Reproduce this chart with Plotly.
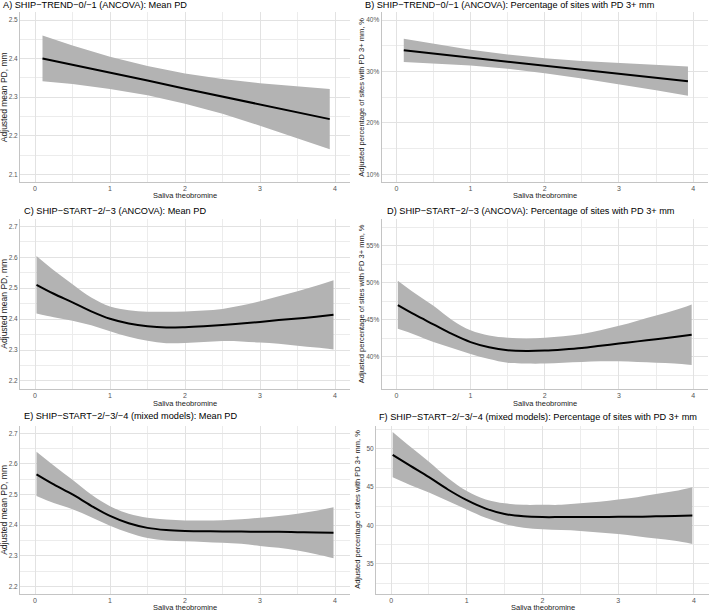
import plotly.graph_objects as go

W, H = 709, 612

# ---------------- data ----------------
x_lin = [0.1, 0.5, 1.0, 1.5, 2.0, 2.5, 3.0, 3.5, 3.93]
x_spl = [0.02, 0.25, 0.5, 0.75, 1.0, 1.25, 1.5, 1.75, 2.0, 2.25, 2.5, 2.75, 3.0, 3.25, 3.5, 3.75, 3.98]

a_fit = [2.400, 2.384, 2.363, 2.343, 2.322, 2.302, 2.281, 2.261, 2.243]
a_hi = [2.460, 2.434, 2.405, 2.381, 2.361, 2.347, 2.336, 2.328, 2.321]
a_lo = [2.341, 2.334, 2.321, 2.305, 2.283, 2.257, 2.226, 2.194, 2.165]

b_fit = [34.10, 33.47, 32.69, 31.91, 31.12, 30.34, 29.56, 28.77, 28.10]
b_hi = [36.35, 35.37, 34.24, 33.31, 32.57, 32.04, 31.61, 31.22, 30.95]
b_lo = [31.85, 31.57, 31.14, 30.51, 29.67, 28.64, 27.51, 26.32, 25.25]

c_fit = [2.511, 2.482, 2.454, 2.425, 2.401, 2.386, 2.377, 2.373, 2.374, 2.377, 2.381, 2.386, 2.391, 2.397, 2.402, 2.408, 2.414]
c_hi = [2.604, 2.558, 2.513, 2.470, 2.441, 2.429, 2.424, 2.424, 2.425, 2.428, 2.433, 2.444, 2.458, 2.474, 2.490, 2.508, 2.526]
c_lo = [2.418, 2.406, 2.395, 2.380, 2.361, 2.343, 2.330, 2.322, 2.323, 2.326, 2.329, 2.328, 2.324, 2.320, 2.314, 2.308, 2.302]

d_fit = [47.0, 45.7, 44.4, 43.1, 42.0, 41.3, 40.9, 40.8, 40.85, 41.0, 41.2, 41.5, 41.8, 42.1, 42.4, 42.7, 43.0]
d_hi = [50.3, 48.6, 46.9, 45.0, 43.6, 42.9, 42.6, 42.5, 42.6, 42.8, 43.1, 43.6, 44.2, 44.9, 45.6, 46.3, 47.1]
d_lo = [43.8, 43.0, 42.0, 41.2, 40.4, 39.7, 39.2, 39.1, 39.1, 39.2, 39.3, 39.4, 39.4, 39.3, 39.2, 39.1, 38.9]

e_fit = [2.566, 2.533, 2.500, 2.463, 2.430, 2.406, 2.391, 2.384, 2.381, 2.380, 2.379, 2.379, 2.378, 2.378, 2.377, 2.376, 2.375]
e_hi = [2.640, 2.595, 2.548, 2.500, 2.462, 2.437, 2.424, 2.418, 2.415, 2.415, 2.416, 2.419, 2.424, 2.430, 2.437, 2.447, 2.458]
e_lo = [2.495, 2.472, 2.452, 2.426, 2.398, 2.375, 2.358, 2.350, 2.347, 2.345, 2.342, 2.339, 2.332, 2.326, 2.317, 2.305, 2.292]

f_fit = [49.2, 47.8, 46.3, 44.7, 43.3, 42.2, 41.5, 41.2, 41.1, 41.1, 41.1, 41.1, 41.15, 41.15, 41.2, 41.25, 41.3]
f_hi = [52.2, 50.3, 48.3, 46.2, 44.5, 43.4, 42.9, 42.7, 42.7, 42.7, 42.9, 43.1, 43.4, 43.7, 44.1, 44.5, 45.0]
f_lo = [46.3, 45.3, 44.3, 43.2, 42.1, 41.0, 40.2, 39.7, 39.5, 39.4, 39.3, 39.1, 38.9, 38.6, 38.3, 38.0, 37.6]

titles = [
    "A) SHIP\u2212TREND\u22120/\u22121 (ANCOVA): Mean PD",
    "B) SHIP\u2212TREND\u22120/\u22121 (ANCOVA): Percentage of sites with PD 3+ mm",
    "C) SHIP\u2212START\u22122/\u22123 (ANCOVA): Mean PD",
    "D) SHIP\u2212START\u22122/\u22123 (ANCOVA): Percentage of sites with PD 3+ mm",
    "E) SHIP\u2212START\u22122/\u22123/\u22124 (mixed models): Mean PD",
    "F) SHIP\u2212START\u22122/\u22123/\u22124 (mixed models): Percentage of sites with PD 3+ mm",
]
x_title = "Saliva theobromine"
y_title_pd = "Adjusted mean PD, mm"
y_title_pct = "Adjusted percentage of sites with PD 3+ mm, %"

# ---------------- layout settings ----------------
FONT = "Liberation Sans, Arial, sans-serif"
RIB = "rgb(179,179,179)"
GRID = "#e2e2e2"
MINOR = "#ececec"
AXLINE = "#c4c4c4"

panels = [
    dict(x=x_lin, fit=a_fit, hi=a_hi, lo=a_lo, shape="linear", xd=(20, 350), yd=(12.3, 182),
         yr=[2.08, 2.52], dt=0.1, mdt=0.05, suf="", tx=1, ty=5, yt=y_title_pd, ytx=4, yfs=8.5, xty=196),
    dict(x=x_lin, fit=b_fit, hi=b_hi, lo=b_lo, shape="linear", xd=(381.5, 708), yd=(12.3, 182),
         yr=[8.5, 41.5], dt=10, mdt=5, suf="%", tx=363, ty=5, yt=y_title_pct, ytx=361.5, yfs=7.5, xty=196),
    dict(x=x_spl, fit=c_fit, hi=c_hi, lo=c_lo, shape="spline", xd=(20, 350), yd=(218.6, 388.7),
         yr=[2.175, 2.725], dt=0.1, mdt=0.05, suf="", tx=21.5, ty=211, yt=y_title_pd, ytx=4, yfs=8.5, xty=403),
    dict(x=x_spl, fit=d_fit, hi=d_hi, lo=d_lo, shape="spline", xd=(381.5, 708), yd=(218.6, 388.7),
         yr=[35.7, 58.7], dt=5, mdt=2.5, suf="%", tx=385, ty=211, yt=y_title_pct, ytx=361.5, yfs=7.5, xty=403),
    dict(x=x_spl, fit=e_fit, hi=e_hi, lo=e_lo, shape="spline", xd=(20, 350), yd=(425.6, 594),
         yr=[2.175, 2.725], dt=0.1, mdt=0.05, suf="", tx=21.5, ty=416, yt=y_title_pd, ytx=4, yfs=8.5, xty=607),
    dict(x=x_spl, fit=f_fit, hi=f_hi, lo=f_lo, shape="spline", xd=(376, 709), yd=(425.6, 594),
         yr=[31.07, 53.03], dt=5, mdt=2.5, suf="", tx=377, ty=416.5, yt=y_title_pct, ytx=358, yfs=7.5, xty=607),
]

fig = go.Figure()
layout = dict(
    width=W, height=H, margin=dict(l=0, r=0, t=0, b=0),
    paper_bgcolor="white", plot_bgcolor="white", showlegend=False,
    font=dict(family=FONT),
)
annotations = []

for i, p in enumerate(panels):
    n = "" if i == 0 else str(i + 1)
    xa, ya = "x" + n, "y" + n
    common = dict(xaxis=xa, yaxis=ya, showlegend=False, hoverinfo="skip")
    fig.add_trace(go.Scatter(x=p["x"], y=p["lo"], mode="lines",
                             line=dict(width=0, color=RIB, shape=p["shape"]), **common))
    fig.add_trace(go.Scatter(x=p["x"], y=p["hi"], mode="lines", fill="tonexty", fillcolor=RIB,
                             line=dict(width=0, color=RIB, shape=p["shape"]), **common))
    fig.add_trace(go.Scatter(x=p["x"], y=p["fit"], mode="lines",
                             line=dict(width=2, color="black", shape=p["shape"]), **common))

    x0, x1 = p["xd"]
    yt0, yb0 = p["yd"]
    layout["xaxis" + n] = dict(
        domain=[x0 / W, x1 / W], anchor=ya, range=[-0.2, 4.2],
        tick0=0, dtick=1, showgrid=True, gridcolor=GRID, gridwidth=1,
        minor=dict(dtick=0.5, tick0=0, showgrid=True, gridcolor=MINOR, gridwidth=0.8),
        zeroline=False, showline=True, linecolor=AXLINE, linewidth=1,
        ticks="", ticklen=0,
        tickfont=dict(size=7, color="#555555", family=FONT),
    )
    layout["yaxis" + n] = dict(
        domain=[1 - yb0 / H, 1 - yt0 / H], anchor=xa, range=p["yr"],
        tick0=0, dtick=p["dt"], ticksuffix=p["suf"], showgrid=True, gridcolor=GRID, gridwidth=1,
        minor=dict(dtick=p["mdt"], tick0=0, showgrid=True, gridcolor=MINOR, gridwidth=0.8),
        zeroline=False, showline=True, linecolor=AXLINE, linewidth=1,
        ticks="", ticklen=0,
        tickfont=dict(size=6.5, color="#555555", family=FONT),
    )
    # panel title
    annotations.append(dict(text=titles[i], x=p["tx"] / W, y=1 - p["ty"] / H, xref="paper", yref="paper",
                            xanchor="left", yanchor="middle", showarrow=False,
                            font=dict(size=9.2, color="black", family=FONT)))
    # x-axis title
    annotations.append(dict(text=x_title, x=(x0 + x1) / 2 / W, y=1 - p["xty"] / H,
                            xref="paper", yref="paper", xanchor="center", yanchor="middle",
                            showarrow=False, font=dict(size=7.5, color="#222222", family=FONT)))
    # y-axis title
    annotations.append(dict(text=p["yt"], x=p["ytx"] / W, y=1 - (yt0 + yb0) / 2 / H,
                            xref="paper", yref="paper", xanchor="center", yanchor="middle",
                            textangle=-90, showarrow=False,
                            font=dict(size=p["yfs"], color="#222222", family=FONT)))

layout["annotations"] = annotations
fig.update_layout(**layout)
fig.write_html("out.html")
